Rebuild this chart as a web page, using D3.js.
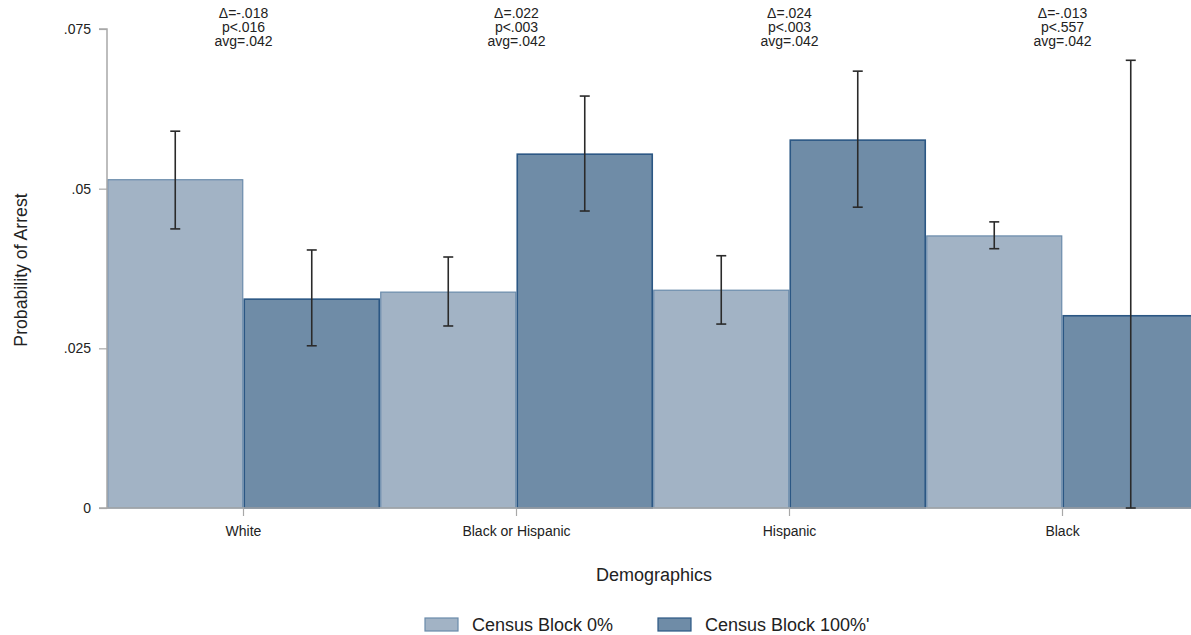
<!DOCTYPE html>
<html><head><meta charset="utf-8">
<script src="https://cdn.jsdelivr.net/npm/d3@7/dist/d3.min.js"></script>
<style>body{margin:0;background:#fff;}svg{display:block;font-family:"Liberation Sans",Arial,sans-serif;}</style>
</head><body>
<svg id="c" width="1191" height="635"></svg>
<script>
const categories = ["White", "Black or Hispanic", "Hispanic", "Black"];
const seriesNames = ["Census Block 0%", "Census Block 100%'"];
const values0 = [0.0514, 0.0338, 0.0341, 0.0426];
const lo0 = [0.0437, 0.0285, 0.0288, 0.0406];
const hi0 = [0.0590, 0.0393, 0.0395, 0.0448];
const values100 = [0.0327, 0.0554, 0.0576, 0.0301];
const lo100 = [0.0254, 0.0465, 0.0471, 0.0000];
const hi100 = [0.0404, 0.0645, 0.0684, 0.0701];
const annotDelta = ["Δ=-.018", "Δ=.022", "Δ=.024", "Δ=-.013"];
const annotP = ["p<.016", "p<.003", "p<.003", "p<.557"];
const annotAvg = ["avg=.042", "avg=.042", "avg=.042", "avg=.042"];
const yTicks = [0, 0.025, 0.05, 0.075];
const yTickLabels = ["0", ".025", ".05", ".075"];

(function () {
const svg = d3.select("#c");
const mL = 107, mR = 1199, mT = 29, mB = 508;
const y = d3.scaleLinear().domain([0, 0.075]).range([mB, mT]);
const x = d3.scaleBand().domain(categories).range([mL, mR]).paddingInner(0).paddingOuter(0);
const xs = d3.scaleBand().domain([0, 1]).range([0, x.bandwidth()]);

const fills = ["#a2b3c5", "#6f8ca7"];
const strokes = ["#6a8bab", "#2b5784"];
const series = [
  {v: values0, lo: lo0, hi: hi0},
  {v: values100, lo: lo100, hi: hi100}
];

series.forEach((s, si) => {
  svg.append("g").selectAll("rect").data(categories).join("rect")
    .attr("x", d => x(d) + xs(si) + 0.75)
    .attr("y", (d, i) => y(s.v[i]))
    .attr("width", xs.bandwidth() - 1.5)
    .attr("height", (d, i) => y(0) - y(s.v[i]))
    .attr("fill", fills[si]).attr("stroke", strokes[si]).attr("stroke-width", si ? 1.6 : 1.2);
});

const yAxis = d3.axisLeft(y).tickValues(yTicks).tickFormat((d, i) => yTickLabels[i]).tickSize(8).tickPadding(8);
const gy = svg.append("g").attr("transform", `translate(${mL},0)`).call(yAxis);
gy.select(".domain").attr("stroke", "#a8a8a8").attr("stroke-width", 1.5).attr("d", `M-8,${mT}H0V${mB}H-8`);
gy.selectAll(".tick line").attr("stroke", "#a8a8a8").attr("stroke-width", 1.2);
gy.selectAll(".tick text").attr("font-size", 14).attr("fill", "#222").style("font-family", '"Liberation Sans",Arial,sans-serif');

const xAxis = d3.axisBottom(x).tickSize(8).tickPadding(10);
const gx = svg.append("g").attr("transform", `translate(0,${mB})`).call(xAxis);
gx.select(".domain").attr("stroke", "#a8a8a8").attr("stroke-width", 1.5).attr("d", `M${mL},0H${mR}`);
gx.selectAll(".tick line").attr("stroke", "#a8a8a8").attr("stroke-width", 1.2);
gx.selectAll(".tick text").attr("font-size", 14).attr("fill", "#222").style("font-family", '"Liberation Sans",Arial,sans-serif');

series.forEach((s, si) => {
  const g = svg.append("g").attr("stroke", "#2a2a2a").attr("stroke-width", 1.6).attr("fill", "none");
  categories.forEach((c, i) => {
    const cx = x(c) + xs(si) + xs.bandwidth() / 2;
    g.append("line").attr("x1", cx).attr("x2", cx).attr("y1", y(s.lo[i])).attr("y2", y(s.hi[i]));
    g.append("line").attr("x1", cx - 5).attr("x2", cx + 5).attr("y1", y(s.lo[i])).attr("y2", y(s.lo[i]));
    g.append("line").attr("x1", cx - 5).attr("x2", cx + 5).attr("y1", y(s.hi[i])).attr("y2", y(s.hi[i]));
  });
});

categories.forEach((c, i) => {
  const cx = x(c) + x.bandwidth() / 2;
  const t = svg.append("text").attr("x", cx).attr("text-anchor", "middle").attr("font-size", 14).attr("fill", "#222");
  [annotDelta[i], annotP[i], annotAvg[i]].forEach((s, k) => {
    t.append("tspan").attr("x", cx).attr("y", 18 + k * 14).text(s);
  });
});

svg.append("text").attr("x", 654).attr("y", 581).attr("text-anchor", "middle").attr("font-size", 18).attr("fill", "#222").text("Demographics");
svg.append("text").attr("transform", "translate(27,270) rotate(-90)").attr("text-anchor", "middle").attr("font-size", 17.7).attr("fill", "#222").text("Probability of Arrest");

const legX = [425, 658];
seriesNames.forEach((n, si) => {
  svg.append("rect").attr("x", legX[si]).attr("y", 618).attr("width", 33).attr("height", 13)
    .attr("fill", fills[si]).attr("stroke", strokes[si]).attr("stroke-width", 1.2);
  svg.append("text").attr("x", legX[si] + 47).attr("y", 631).attr("font-size", 18).attr("fill", "#222").text(n);
});
})();
</script>
</body></html>
